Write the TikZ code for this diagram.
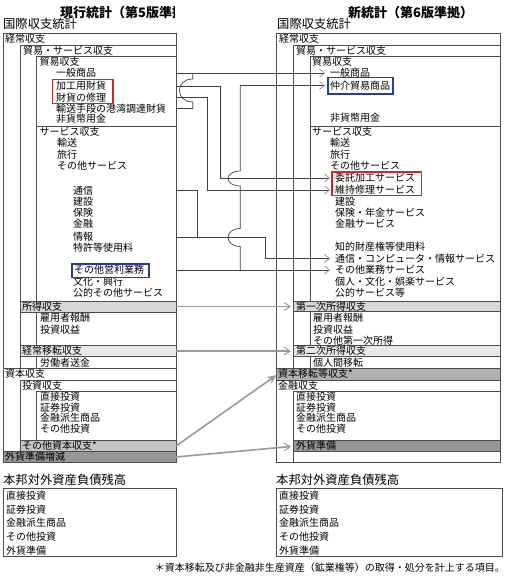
\documentclass[tikz,border=0pt]{standalone}
\usepackage{fontspec}
\setmainfont{Noto Sans CJK JP}
\usetikzlibrary{arrows.meta}

\begin{document}
\begin{tikzpicture}[x=1pt, y=-1pt,
    muc/.style={anchor=west, inner sep=0pt, font=\fontsize{10}{12}\selectfont},
    tieude/.style={anchor=west, inner sep=0pt, font=\fontsize{12.3}{14}\selectfont},
    khung/.style={draw=black!70, line width=0.6pt},
    noiday/.style={draw=black!75, line width=0.7pt},
    noi/.style={noiday, shorten >=5pt, -{Straight Barb[length=5pt, width=8pt, line width=0.7pt, color=black!45]}},
    xam/.style={draw=gray!80, line width=1.6pt, shorten >=5pt, -{Straight Barb[length=6pt, width=8pt, line width=1pt]}},
    xamdac/.style={draw=gray!80, line width=1.6pt, shorten >=2pt, -{Stealth[length=9pt, width=8pt]}},
    danhdau/.style={line width=1.8pt}]
    % Định nghĩa màu
    \definecolor{hangA}{RGB}{216,216,216} % 所得収支
    \definecolor{hangB}{RGB}{232,232,232} % 経常移転収支
    \definecolor{hangC}{RGB}{196,196,196} % その他資本収支
    \definecolor{hangD}{RGB}{150,150,150} % 外貨準備
    \definecolor{doK}{RGB}{222,32,40}
    \definecolor{xanhK}{RGB}{42,56,168}

    \useasboundingbox (0,0) rectangle (507,584);

    % Macro một mục chữ: \muc{tên}{x}{y}{chữ}
    \newcommand{\muc}[4]{\node[muc] (#1) at (#2,#3) {#4};}

    % 1. Tiêu đề
    \begin{scope}
        \clip (0,0) rectangle (174,28);
        \node[tieude, font=\fontsize{13}{15}\selectfont\bfseries] (T-cu) at (60,12.5) {現行統計（第5版準拠）};
    \end{scope}
    \node[tieude, font=\fontsize{13}{15}\selectfont\bfseries] (T-moi) at (348,13) {新統計（第6版準拠）};
    \node[tieude] (T-L) at (3,23.5) {国際収支統計};
    \node[tieude] (T-R) at (277,23.5) {国際収支統計};

    % 2. Khung bên trái
    \draw[khung] (3,33) rectangle (176,368.3);
    \draw[khung] (20,45) rectangle (176,301);
    \draw[khung] (36.7,56) rectangle (176,126.5);
    \draw[khung] (36.7,126.5) rectangle (176,301);
    \filldraw[khung, fill=hangA] (20,301) rectangle (176,312);
    \draw[khung] (20,312) rectangle (176,345);
    \draw[khung] (36.7,312) rectangle (176,345);
    \filldraw[khung, fill=hangB] (20,345) rectangle (176,356.7);
    \draw[khung] (20,356.7) rectangle (176,368.3);
    \draw[khung] (36.7,356.7) rectangle (176,368.3);
    \draw[khung] (3,368.3) rectangle (176,451.7);
    \draw[khung] (20,380) rectangle (176,440);
    \draw[khung] (36.7,391.7) rectangle (176,440);
    \filldraw[khung, fill=hangC] (20,440) rectangle (176,451.7);
    \filldraw[khung, fill=hangD] (3,451.7) rectangle (176,462.7);

    \muc{L-kc}{5}{39}{経常収支}
    \muc{L-bs}{23}{50.5}{貿易・サービス収支}
    \muc{L-bk}{39.5}{62}{貿易収支}
    \muc{L-ippan}{56}{73}{一般商品}
    \muc{L-kako}{56}{86}{加工用財貨}
    \muc{L-shuri}{56}{97.5}{財貨の修理}
    \muc{L-yuso}{56}{108.5}{輸送手段の港湾調達財貨}
    \muc{L-hika}{56}{119}{非貨幣用金}
    \muc{L-sv}{39.5}{132}{サービス収支}
    \muc{L-unso}{57}{143}{輸送}
    \muc{L-ryoko}{57}{155}{旅行}
    \muc{L-sonotasv}{57}{166}{その他サービス}
    \muc{L-tsushin}{73}{190.5}{通信}
    \muc{L-kensetsu}{73}{201.5}{建設}
    \muc{L-hoken}{73}{212.5}{保険}
    \muc{L-kinyu}{73}{224}{金融}
    \muc{L-joho}{73}{237}{情報}
    \muc{L-tokkyo}{73}{247.5}{特許等使用料}
    \muc{L-eiri}{74}{270}{その他営利業務}
    \muc{L-bunka}{73}{282}{文化・興行}
    \muc{L-koteki}{73}{293}{公的その他サービス}
    \muc{L-shotoku}{22}{306.5}{所得収支}
    \muc{L-koyo}{40}{318}{雇用者報酬}
    \muc{L-toshi}{40}{330}{投資収益}
    \muc{L-iten}{22}{351}{経常移転収支}
    \muc{L-rodo}{40}{362.5}{労働者送金}
    \muc{L-sh}{5}{374}{資本収支}
    \muc{L-tsh}{22}{386}{投資収支}
    \muc{L-chokusetsu}{40}{397}{直接投資}
    \muc{L-shoken}{40}{407.5}{証券投資}
    \muc{L-hasei}{40}{418}{金融派生商品}
    \muc{L-sonotatoshi}{40}{428.5}{その他投資}
    \muc{L-sonota}{22}{446}{その他資本収支*}
    \muc{L-gaika}{5}{457}{外貨準備増減}

    % 3. Khung bên phải
    \draw[khung] (276,33) rectangle (500,368.3);
    \draw[khung] (293.3,45) rectangle (500,301);
    \draw[khung] (310,56) rectangle (500,126.5);
    \draw[khung] (310,126.5) rectangle (500,301);
    \filldraw[khung, fill=hangA] (293.3,301) rectangle (500,311.7);
    \draw[khung] (293.3,311.7) rectangle (500,345.7);
    \draw[khung] (310,311.7) rectangle (500,345.7);
    \filldraw[khung, fill=hangB] (293.3,345.7) rectangle (500,356.7);
    \draw[khung] (293.3,356.7) rectangle (500,368.3);
    \draw[khung] (310,356.7) rectangle (500,368.3);
    \filldraw[khung, fill=hangC!90!black] (276,368.3) rectangle (500,380);
    \draw[khung] (276,380) rectangle (500,462.7);
    \draw[khung] (293.3,391.7) rectangle (500,462.7);
    \filldraw[khung, fill=hangD] (293.3,440) rectangle (500,451.3);

    \muc{R-kc}{279}{39}{経常収支}
    \muc{R-bs}{296}{50.5}{貿易・サービス収支}
    \muc{R-bk}{312}{62}{貿易収支}
    \muc{R-ippan}{330}{73}{一般商品}
    \muc{R-chukai}{330}{85.5}{仲介貿易商品}
    \muc{R-hika}{330}{118}{非貨幣用金}
    \muc{R-sv}{312}{132}{サービス収支}
    \muc{R-unso}{330}{143}{輸送}
    \muc{R-ryoko}{330}{155}{旅行}
    \muc{R-sonotasv}{330}{166}{その他サービス}
    \muc{R-itaku}{335}{178}{委託加工サービス}
    \muc{R-iji}{335}{190}{維持修理サービス}
    \muc{R-kensetsu}{335}{201.5}{建設}
    \muc{R-hoken}{335}{212.5}{保険・年金サービス}
    \muc{R-kinyu}{335}{223.5}{金融サービス}
    \muc{R-chiteki}{335}{247}{知的財産権等使用料}
    \muc{R-tsushin}{335}{258.5}{通信・コンピュータ・情報サービス}
    \muc{R-gyomu}{335}{270}{その他業務サービス}
    \muc{R-kojin}{335}{282}{個人・文化・娯楽サービス}
    \muc{R-koteki}{335}{293}{公的サービス等}
    \muc{R-ichiji}{296}{306.5}{第一次所得収支}
    \muc{R-koyo}{313}{318}{雇用者報酬}
    \muc{R-toshi}{313}{329.5}{投資収益}
    \muc{R-sonotaichiji}{313}{341}{その他第一次所得}
    \muc{R-niji}{296}{351}{第二次所得収支}
    \muc{R-kojinkan}{313}{362.5}{個人間移転}
    \muc{R-shihon}{278}{374}{資本移転等収支*}
    \muc{R-kinyush}{278}{386}{金融収支}
    \muc{R-chokusetsu}{296}{397}{直接投資}
    \muc{R-shoken}{296}{407.5}{証券投資}
    \muc{R-hasei}{296}{418}{金融派生商品}
    \muc{R-sonotatoshi}{296}{428.5}{その他投資}
    \muc{R-gaika}{296}{446}{外貨準備}

    % 4. Khung đánh dấu
    \draw[danhdau, doK] (52.5,79.5) rectangle (113,103.5);
    \draw[danhdau, doK] (332,172) rectangle (421.5,195.5);
    \draw[danhdau, xanhK] (72,264) rectangle (149,277.5);
    \draw[danhdau, xanhK] (328,77.5) rectangle (393,94);

    % 5. Đường nối
    \coordinate (Lr) at (176,0);
    \coordinate (v1) at (192.7,0);
    \coordinate (v2) at (197,0);
    \coordinate (v3) at (207,0);
    \coordinate (v4) at (220.3,0);
    \coordinate (v5) at (240.3,0);
    \coordinate (v6) at (265,0);

    \draw[noi] (L-ippan -| Lr) -- (R-ippan.west);
    \draw[noiday] (L-yuso -| Lr) -- (L-yuso -| v1) -- (192.7,102)
        .. controls (175,102) and (175,79) .. (192.7,79) -- (L-ippan -| v1);
    \draw[noi] (L-kako -| Lr) -- (L-kako -| v4) -- (v4 |- R-itaku) -- (R-itaku.west);
    \draw[noi] (L-shuri -| Lr) -- (L-shuri -| v3) -- (v3 |- R-iji) -- (R-iji.west);
    \draw[noi] (v5 |- R-chukai) -- (R-chukai.west);
    \draw[noiday] (v5 |- R-chukai) -- (240.3,171)
        .. controls (224,171) and (224,186) .. (240.3,186) -- (240.3,228.5)
        .. controls (224,228.5) and (224,246.5) .. (240.3,246.5) -- (v5 |- R-gyomu);
    \draw[noiday] (L-tsushin -| Lr) -- (L-tsushin -| v2) -- (v2 |- L-joho);
    \draw[noi] (L-joho -| Lr) -- (L-joho -| v6) -- (v6 |- R-tsushin) -- (R-tsushin.west);
    \draw[noi] (L-eiri -| Lr) -- (R-gyomu.west);

    \draw[xam] (L-shotoku -| Lr) -- (R-ichiji.west);
    \draw[xam] (L-iten -| Lr) -- (R-niji.west);
    \draw[xamdac] (L-sonota -| Lr) -- (R-shihon.west);
    \draw[xam] (L-gaika -| Lr) -- (R-gaika.west);

    % 6. Số dư tài sản nợ nước ngoài
    \node[tieude] (B-L) at (3,480) {本邦対外資産負債残高};
    \node[tieude] (B-R) at (276,480) {本邦対外資産負債残高};
    \draw[khung] (3,488.5) rectangle (176,556.5);
    \draw[khung] (276,488.5) rectangle (502,556.5);
    \foreach \ten [count=\i] in {直接投資, 証券投資, 金融派生商品, その他投資, 外貨準備} {
        \node[muc] (BL-\i) at (6, 481.8+13.7*\i) {\ten};
        \node[muc] (BR-\i) at (279, 481.8+13.7*\i) {\ten};
    }

    % 7. Chú thích
    \node[muc, anchor=east] (chuthich) at (505,568) {＊資本移転及び非金融非生産資産（鉱業権等）の取得・処分を計上する項目。};

\end{tikzpicture}
\end{document}
